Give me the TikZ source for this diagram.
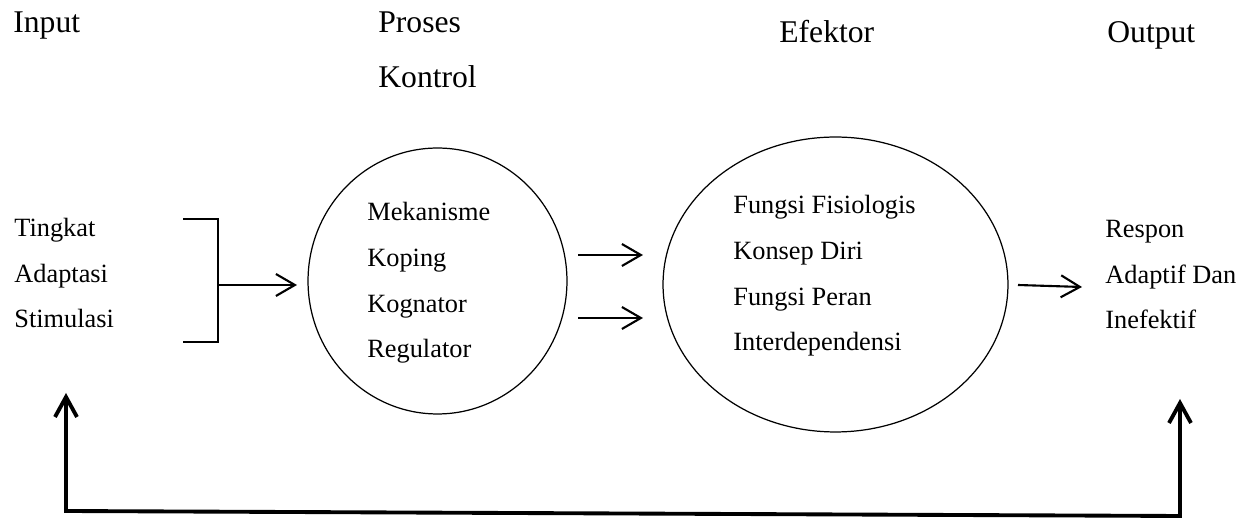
\documentclass[tikz,border=0pt]{standalone}
\usepackage{fontspec}
\setmainfont{Liberation Serif}
\usetikzlibrary{arrows.meta,shapes.geometric}

\begin{document}
\begin{tikzpicture}[x=0.02cm, y=-0.02cm,
  txt/.style={anchor=base west, inner sep=0pt, font=\fontsize{15}{26}\selectfont, align=left},
  head/.style={txt, font=\fontsize{18}{22}\selectfont},
  circ/.style={draw, ellipse, inner sep=0pt, line width=0.7pt},
  arr/.style={line width=1.2pt, -{Straight Barb[length=0.38cm,width=0.44cm]}},
  fb/.style={line width=2.2pt, {Straight Barb[length=0.4cm,width=0.44cm]}-{Straight Barb[length=0.4cm,width=0.44cm]}}]
  \useasboundingbox (0,0) rectangle (1259,519);

  % headings
  \node[head] (In) at (13,33) {Input};
  \node[head] (Pr) at (378,33) {Proses};
  \node[head] (Ko) at (378,88) {Kontrol};
  \node[head] (Ef) at (779,43) {Efektor};
  \node[head] (Out) at (1107,43) {Output};

  % circles
  \node[circ, minimum width=5.18cm, minimum height=5.32cm] (C1) at (437.5,281) {};
  \node[circ, minimum width=6.9cm, minimum height=5.9cm] (C2) at (835.5,284.5) {};

  % texts (anchored at the last line)
  \node[txt] (A) at (14,328) {Tingkat\\Adaptasi\\Stimulasi};
  \node[txt] (B) at (367,358) {Mekanisme\\Koping\\Kognator\\Regulator};
  \node[txt] (D) at (733,351) {Fungsi Fisiologis\\Konsep Diri\\Fungsi Peran\\Interdependensi};
  \node[txt] (R) at (1105,329) {Respon\\Adaptif Dan\\Inefektif};

  % bracket
  \coordinate (b1) at (183,219);
  \coordinate (b2) at (218,219);
  \coordinate (b3) at (218,342);
  \coordinate (b4) at (183,342);
  \draw[line width=1.2pt] (b1) -- (b2) -- (b3) -- (b4);

  % arrows
  \coordinate (a0) at (218,285);
  \coordinate (a1) at (297,285);
  \coordinate (p1) at (578,255);
  \coordinate (q1) at (643,255);
  \coordinate (p2) at (578,318);
  \coordinate (q2) at (643,318);
  \coordinate (p3) at (1018,285);
  \coordinate (q3) at (1082,287);
  \draw[arr] (a0) -- (a1);
  \draw[arr] (p1) -- (q1);
  \draw[arr] (p2) -- (q2);
  \draw[arr] (p3) -- (q3);

  % feedback
  \coordinate (fL) at (66,393);
  \coordinate (cL) at (66,511);
  \coordinate (cR) at (1180,516);
  \coordinate (fR) at (1180,399);
  \draw[fb] (fL) -- (cL) -- (cR) -- (fR);
\end{tikzpicture}
\end{document}
